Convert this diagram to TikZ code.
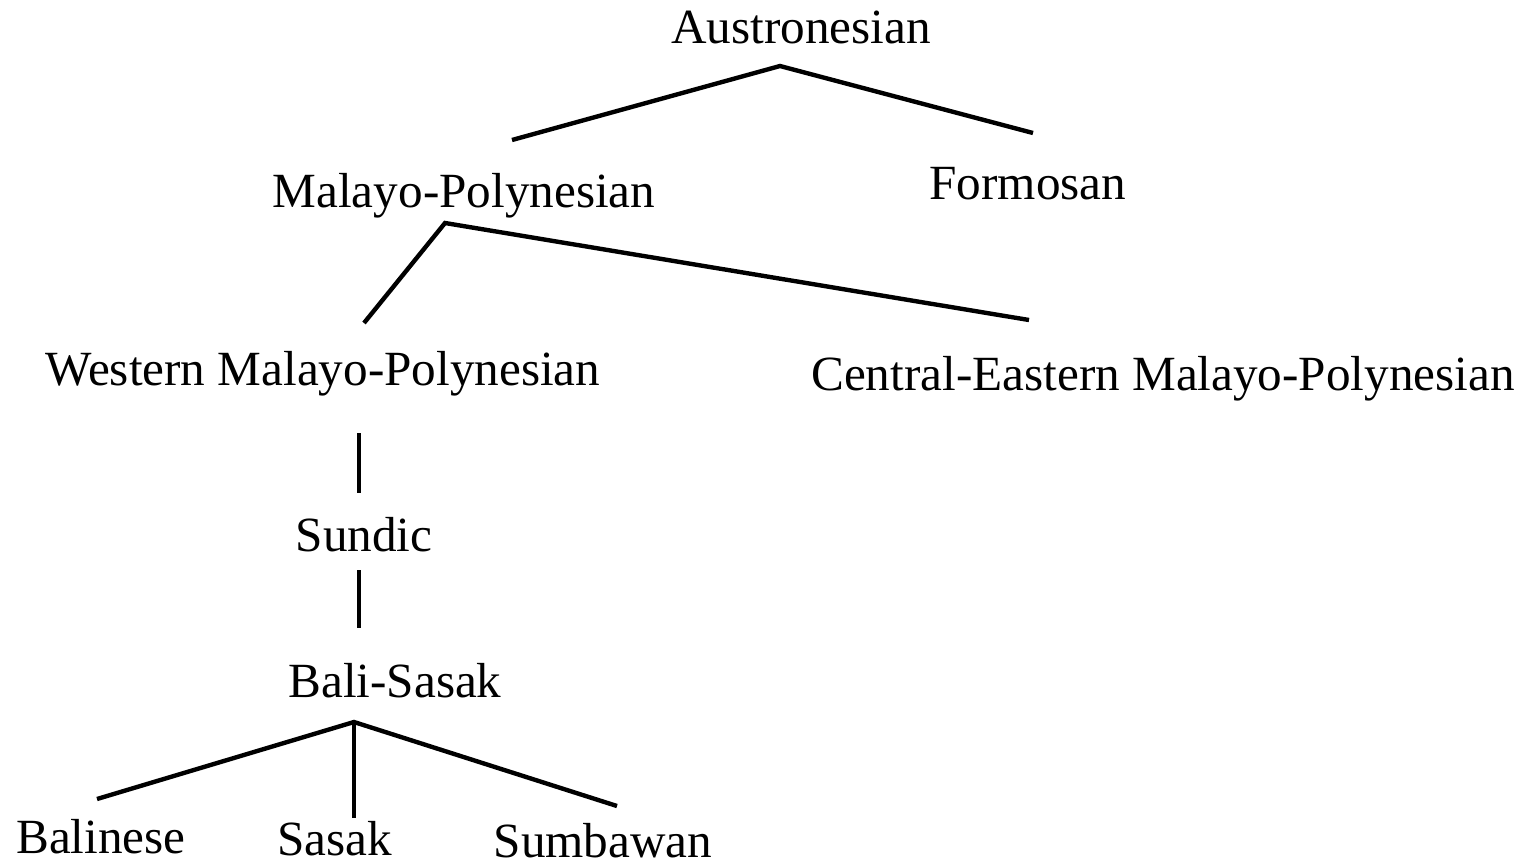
\documentclass[tikz,border=0pt]{standalone}
\usepackage{fontspec}
\setmainfont{Liberation Serif}

\begin{document}
\begin{tikzpicture}[x=0.02cm,y=-0.02cm,
  lang/.style={anchor=base,inner sep=0pt,font=\fontsize{28}{34}\selectfont},
  branch/.style={line width=2.5pt}]

\useasboundingbox (0,0) rectangle (1532,867);

% Sprachen
\node[lang] (aus) at (801,43) {Austronesian};
\node[lang] (mp) at (464,207) {Malayo-Polynesian};
\node[lang] (form) at (1028,199) {Formosan};
\node[lang] (wmp) at (323,385) {Western Malayo-Polynesian};
\node[lang] (cemp) at (1163,390) {Central-Eastern Malayo-Polynesian};
\node[lang] (sund) at (364,551) {Sundic};
\node[lang] (bs) at (395,697) {Bali-Sasak};
\node[lang] (bal) at (101,853) {Balinese};
\node[lang] (sas) at (335,855) {Sasak};
\node[lang] (sum) at (603,857) {Sumbawan};

% Verzweigungspunkte
\coordinate (ausTop) at (780,66);
\coordinate (mpIn) at (512,140);
\coordinate (formIn) at (1033,133);
\coordinate (mpTop) at (445,223);
\coordinate (wmpIn) at (364,323);
\coordinate (cempIn) at (1029,320);
\coordinate (wmpOut) at (359,433);
\coordinate (sundIn) at (359,493);
\coordinate (sundOut) at (359,570);
\coordinate (bsIn) at (359,628);
\coordinate (bsTop) at (354,722);
\coordinate (balIn) at (97,799);
\coordinate (sasIn) at (354,818);
\coordinate (sumIn) at (617,806);

% Aeste
\draw[branch] (mpIn)--(ausTop)--(formIn);
\draw[branch] (wmpIn)--(mpTop)--(cempIn);
\draw[branch] (wmpOut)--(sundIn);
\draw[branch] (sundOut)--(bsIn);
\draw[branch] (balIn)--(bsTop)--(sumIn);
\draw[branch] (bsTop)--(sasIn);

\end{tikzpicture}
\end{document}
